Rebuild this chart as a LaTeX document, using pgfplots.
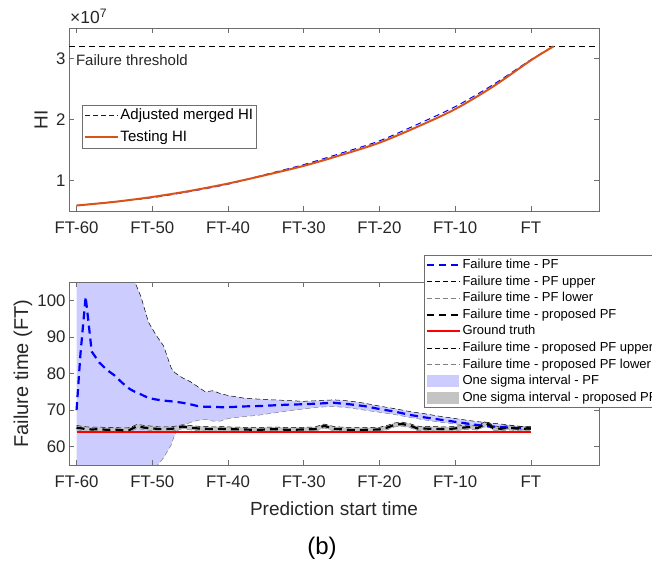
\documentclass[border=0pt]{standalone}
\usepackage{pgfplots}
\pgfplotsset{compat=1.18}
\usepackage{pgfplotstable}
\usepgfplotslibrary{fillbetween}
\usepackage{fontspec}
\setmainfont{Liberation Sans}

\definecolor{axgray}{RGB}{110,110,110}
\definecolor{txtgray}{RGB}{38,38,38}
\definecolor{pfblue}{RGB}{0,0,255}
\definecolor{hiorange}{RGB}{217,83,25}
\definecolor{bandblue}{RGB}{204,204,255}
\definecolor{bandgray}{RGB}{196,196,196}
\definecolor{lowgray}{RGB}{128,128,128}
\definecolor{gtred}{RGB}{255,0,0}

% top panel, HI in units of 1e7
\pgfplotstableread{
x y
-60 0.59
-55 0.65
-50 0.73
-45 0.83
-40 0.95
-35 1.09
-30 1.24
-25 1.42
-20 1.62
-15 1.88
-10 2.17
-5 2.54
0 2.97
3 3.20
}\testhi

\pgfplotstableread{
x y
-60 0.59
-55 0.65
-50 0.72
-45 0.82
-40 0.94
-35 1.10
-30 1.26
-25 1.45
-20 1.65
-15 1.92
-10 2.21
-5 2.57
0 2.98
3 3.20
}\mergedhi

% bottom panel, PF prediction with one sigma bounds
\pgfplotstableread{
x mean up lo
-60 70.0 140 30
-59.5 85.0 138 31
-58.8 101.0 135 32
-58 86.0 130 33
-57 83.0 125 35
-56 81.0 120 37
-55 79.5 116 39
-54 77.5 112 41
-53 75.8 109 43
-52.3 75.0 105 45
-51.5 74.3 101 48
-50.5 73.3 94 51
-49.5 72.9 90.5 54.5
-48.5 72.6 87.5 57
-47.5 72.4 81.5 60.5
-47 72.3 80.2 63.5
-46 72.0 78.8 65.8
-45 71.6 77.8 66.6
-44 71.1 76.4 67.2
-43 70.9 75.0 67.5
-42 70.9 75.3 67.0
-41 70.8 74.5 67.0
-40 70.8 74.0 67.7
-38 71.0 73.3 68.2
-36 71.1 73.0 68.6
-34 71.3 72.8 69.2
-32 71.5 72.6 69.8
-30 71.6 72.4 70.3
-28 71.8 72.6 70.8
-26 72.0 72.8 71.0
-24 71.6 72.5 70.6
-22 71.1 71.9 70.0
-20 70.3 71.1 69.4
-18 69.6 70.4 68.8
-16 68.7 69.6 68.0
-14 68.0 69.0 67.3
-12 67.4 68.3 66.7
-10 66.8 67.7 66.2
-8 66.2 67.1 65.8
-6 65.6 66.6 65.3
-4 65.4 66.2 65.0
-2 65.1 65.7 64.8
0 65.0 65.3 64.7
}\pftab

% bottom panel, proposed PF with one sigma bounds
\pgfplotstableread{
x mean up lo
-60 65.2 65.8 64.6
-59 64.9 65.5 64.3
-58 64.7 65.3 64.1
-57 64.8 65.4 64.2
-56 64.6 65.2 64.0
-55 64.7 65.3 64.1
-54 64.5 65.1 63.9
-53 64.6 65.2 64.0
-52 65.6 66.1 65.0
-51 65.2 65.8 64.6
-50 65.0 65.6 64.4
-49 64.8 65.4 64.2
-48 64.8 65.4 64.2
-47 65.0 65.6 64.4
-46 65.5 66.0 64.9
-45 65.2 65.8 64.6
-44 65.0 65.6 64.4
-43 64.9 65.5 64.3
-42 64.8 65.4 64.2
-41 64.9 65.5 64.3
-40 64.8 65.4 64.2
-38 64.7 65.3 64.1
-36 64.6 65.2 64.0
-34 64.8 65.4 64.2
-32 64.6 65.2 64.0
-30 64.7 65.3 64.1
-28.5 64.8 65.4 64.2
-27.3 65.7 66.2 65.1
-26 64.9 65.5 64.3
-24 64.6 65.2 64.0
-22 64.6 65.2 64.0
-20 64.7 65.3 64.1
-19 65.2 65.8 64.6
-18 66.0 66.5 65.4
-17 66.2 66.7 65.6
-16 65.8 66.3 65.2
-15 65.0 65.6 64.4
-13 64.9 65.5 64.3
-11 64.8 65.4 64.2
-10 65.0 65.6 64.4
-9 65.2 65.8 64.6
-8 65.4 66.0 64.8
-7 65.1 65.7 64.5
-6 66.4 66.9 65.8
-5.5 66.0 66.5 65.4
-5 65.1 65.7 64.5
-4 64.9 65.5 64.3
-3 65.2 65.8 64.6
-2 65.0 65.6 64.4
-1 64.9 65.5 64.3
0 65.0 65.5 64.5
}\proptab

\pgfplotsset{
  ftstyle/.style={
    scale only axis, width=530pt, height=183pt,
    xmin=-61, xmax=9,
    xtick={-60,-50,-40,-30,-20,-10,0},
    xticklabels={FT-60,FT-50,FT-40,FT-30,FT-20,FT-10,FT},
    axis line style={axgray, line width=0.6pt},
    tick style={axgray, line width=0.6pt},
    major tick length=5pt,
    tick align=inside,
    tick pos=both,
    ticklabel style={font=\fontsize{16.8}{18}\selectfont, text=txtgray},
    xticklabel style={yshift=-7pt},
    /pgf/number format/assume math mode=true,
    label style={font=\fontsize{19}{21}\selectfont, text=txtgray},
    legend cell align=left,
  },
  % legend samples
  lline/.style={legend image code/.code={\draw[#1] (0pt,0pt) -- (33pt,0pt);}},
  lpatch/.style={legend image code/.code={%
      \path[fill=#1, draw=none] (0pt,-6pt) rectangle (32pt,6pt);}},
}

\begin{document}
\begin{tikzpicture}

% ---------- top panel ----------
\begin{axis}[ftstyle,
    at={(69pt,-211pt)}, anchor=south west,
    ymin=0.5, ymax=3.5, ytick={1,2,3},
    ylabel={HI},
    ylabel style={at={(axis description cs:-0.0528,0.5)}, anchor=center},
    legend style={at={(0.0245,0.580)}, anchor=north west,
        draw=axgray, fill=white,
        font=\fontsize{15}{17}\selectfont,
        inner sep=2pt, row sep=4pt,
        nodes={inner sep=1.5pt, text height=11pt, text depth=3.5pt}},
]
\addplot[draw=black, line width=0.8pt, dash pattern=on 6pt off 4pt, forget plot]
    coordinates {(-61,3.2) (9,3.2)};
\addplot[draw=pfblue, line width=1pt, dash pattern=on 6pt off 4pt, smooth, forget plot]
    table[x=x,y=y] {\mergedhi};
\addplot[draw=hiorange, line width=2pt, smooth, forget plot]
    table[x=x,y=y] {\testhi};
\addlegendimage{lline={draw=pfblue, line width=1.1pt, dash pattern=on 5pt off 3pt}}
\addlegendentry{Adjusted merged HI}
\addlegendimage{lline={draw=hiorange, line width=1.8pt}}
\addlegendentry{Testing HI}
\node[anchor=west, inner sep=0pt, text=txtgray, font=\fontsize{15}{17}\selectfont]
    at (axis cs:-60.1,2.97) {Failure threshold};
\end{axis}
\node[anchor=base west, inner sep=0pt, text=txtgray, font=\fontsize{17.5}{19}\selectfont]
    at (70pt,-23.5pt) {×10\textsuperscript{7}};

% ---------- bottom panel ----------
\begin{axis}[ftstyle,
    at={(69pt,-465pt)}, anchor=south west,
    set layers, axis on top,
    ymin=55, ymax=105, ytick={60,70,80,90,100},
    xlabel={Prediction start time},
    xlabel style={at={(axis description cs:0.5,-0.240)}, anchor=center},
    ylabel={Failure time (FT)},
    ylabel style={at={(axis description cs:-0.0868,0.5)}, anchor=center,
        font=\fontsize{20}{22}\selectfont},
    legend style={at={(0.670,1.1475)}, anchor=north west,
        draw=axgray, fill=white,
        font=\fontsize{13}{15}\selectfont,
        inner sep=2pt, row sep=1pt,
        nodes={inner xsep=1pt, inner ysep=1.3pt, text height=10pt, text depth=3pt}},
]
\addplot[draw=black, line width=0.5pt, dash pattern=on 5pt off 3pt, name path=pfu, forget plot]
    table[x=x,y=up] {\pftab};
\addplot[draw=lowgray, line width=0.5pt, dash pattern=on 5pt off 3pt, name path=pfl, forget plot]
    table[x=x,y=lo] {\pftab};
\addplot[draw=black, line width=0.5pt, dash pattern=on 5pt off 3pt, name path=ppu, forget plot]
    table[x=x,y=up] {\proptab};
\addplot[draw=lowgray, line width=0.5pt, dash pattern=on 5pt off 3pt, name path=ppl, forget plot]
    table[x=x,y=lo] {\proptab};
\addplot[fill=bandblue, draw=none, forget plot] fill between[of=pfu and pfl];
\addplot[fill=bandgray, draw=none, forget plot] fill between[of=ppu and ppl];
\addplot[draw=gtred, line width=1.6pt, forget plot] coordinates {(-60,64) (0,64)};
\addplot[draw=pfblue, line width=2.2pt, dash pattern=on 8pt off 5pt, forget plot]
    table[x=x,y=mean] {\pftab};
\addplot[draw=black, line width=2.2pt, dash pattern=on 8pt off 5pt, forget plot]
    table[x=x,y=mean] {\proptab};

\addlegendimage{lline={draw=pfblue, line width=2.2pt, dash pattern=on 7pt off 5pt}}
\addlegendentry{Failure time - PF}
\addlegendimage{lline={draw=black, line width=0.5pt, dash pattern=on 5pt off 3pt}}
\addlegendentry{Failure time - PF upper}
\addlegendimage{lline={draw=lowgray, line width=0.5pt, dash pattern=on 5pt off 3pt}}
\addlegendentry{Failure time - PF lower}
\addlegendimage{lline={draw=black, line width=2.2pt, dash pattern=on 7pt off 5pt}}
\addlegendentry{Failure time - proposed PF}
\addlegendimage{lline={draw=gtred, line width=2pt}}
\addlegendentry{Ground truth}
\addlegendimage{lline={draw=black, line width=0.5pt, dash pattern=on 5pt off 3pt}}
\addlegendentry{Failure time - proposed PF upper}
\addlegendimage{lline={draw=lowgray, line width=0.5pt, dash pattern=on 5pt off 3pt}}
\addlegendentry{Failure time - proposed PF lower}
\addlegendimage{lpatch=bandblue}
\addlegendentry{One sigma interval - PF}
\addlegendimage{lpatch=bandgray}
\addlegendentry{One sigma interval - proposed PF}
\end{axis}

\node[text=black, font=\fontsize{24}{26}\selectfont] at (322pt,-548pt) {(b)};

\pgfresetboundingbox
\path (0pt,0pt) rectangle (652pt,-567pt);
\end{tikzpicture}
\end{document}
